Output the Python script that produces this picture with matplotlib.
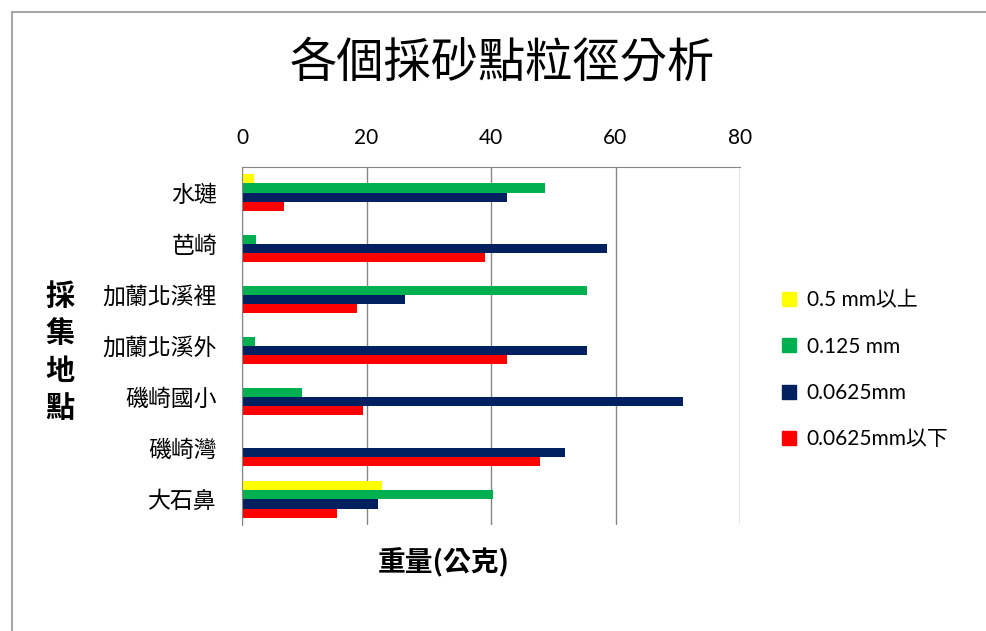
import numpy as np
import matplotlib
matplotlib.use("Agg")
import matplotlib.pyplot as plt
from matplotlib.lines import Line2D

plt.rcParams["font.family"] = ["Noto Sans CJK TC", "DejaVu Sans"]

# 採砂點（上から順）
sites = ["水璉", "芭崎", "加蘭北溪裡", "加蘭北溪外", "磯崎國小", "磯崎灣", "大石鼻"]
series_names = ["0.5 mm以上", "0.125 mm", "0.0625mm", "0.0625mm以下"]
colors = ["#FFFF00", "#00B050", "#002060", "#FF0000"]

over_05 = [1.9, 0.0, 0.1, 0.0, 0.0, 0.0, 22.5]
mm_0125 = [48.7, 2.2, 55.4, 2.1, 9.6, 0.2, 40.3]
mm_00625 = [42.5, 58.6, 26.2, 55.4, 70.9, 51.9, 21.9]
under_00625 = [6.7, 39.0, 18.4, 42.5, 19.5, 47.8, 15.3]
values = [over_05, mm_0125, mm_00625, under_00625]

W, H = 987, 631
fig = plt.figure(figsize=(W / 100, H / 100), dpi=100)
ax = fig.add_axes([242 / W, 1 - 525 / H, 498 / W, 358 / H])

y = np.arange(len(sites))
h = 0.178
for k, (vals, c, name) in enumerate(zip(values, colors, series_names)):
    ax.barh(y + (k - 1.5) * h, vals, height=h, color=c, label=name)

ax.set_xlim(0, 80)
ax.set_ylim(len(sites) - 0.5, -0.5)
ax.set_xticks([0, 20, 40, 60, 80])
ax.set_yticks(y)
ax.set_yticklabels(sites, fontsize=16.5)
ax.xaxis.tick_top()
ax.tick_params(axis="x", length=0, pad=14, labelsize=15)
ax.tick_params(axis="y", length=0, pad=18)
for lab in ax.get_xticklabels():
    lab.set_family(["Lato", "DejaVu Sans"])
ax.grid(axis="x", color="#868686", linewidth=1)
ax.set_axisbelow(True)
for s in ["top", "left"]:
    ax.spines[s].set_color("#868686")
ax.spines["bottom"].set_visible(False)
ax.spines["right"].set_visible(False)

fig.text(502 / W, 1 - 63 / H, "各個採砂點粒徑分析", ha="center", va="center", fontsize=34)
fig.text(60 / W, 1 - 352 / H, "\n".join("採集地點"), ha="center", va="center",
         fontsize=21, fontweight="bold", linespacing=1.3)
fig.text(444 / W, 1 - 563 / H, "重量(公克)", ha="center", va="center",
         fontsize=20, fontweight="bold")

handles = [Line2D([], [], marker="s", linestyle="none", markersize=10, color=c) for c in colors]
leg = fig.legend(handles, series_names, loc="upper left", bbox_to_anchor=(762 / W, 1 - 272 / H),
                 frameon=False, handlelength=0.8, handletextpad=0.45,
                 labelspacing=1.25, prop={"family": ["Lato", "Noto Sans CJK TC"], "size": 15})

# 外枠
fig.add_artist(Line2D([12 / W, 1], [1 - 12 / H, 1 - 12 / H], color="#a8a8a8", linewidth=1.5))
fig.add_artist(Line2D([12 / W, 12 / W], [0, 1 - 12 / H], color="#a8a8a8", linewidth=1.5))

fig.savefig("out.png", dpi=100, facecolor="white")
